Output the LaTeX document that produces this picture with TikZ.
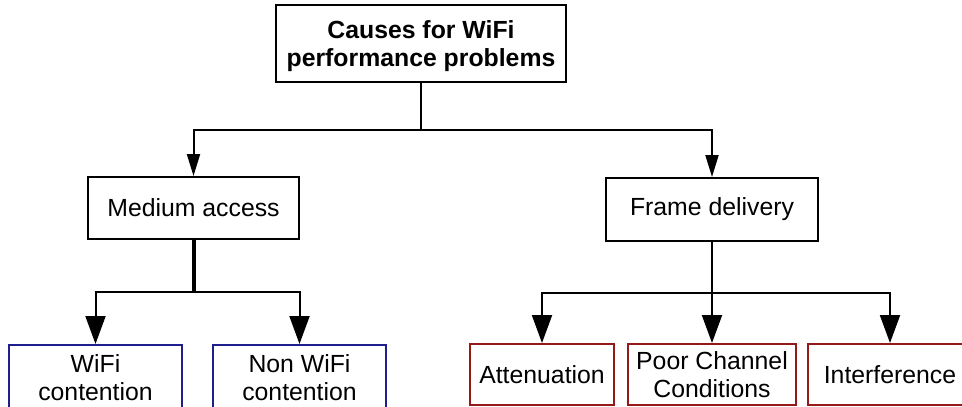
\documentclass[tikz,border=0pt]{standalone}
\usepackage{fontspec}
\setmainfont{Liberation Sans}
\usetikzlibrary{arrows.meta}
\definecolor{boxblue}{RGB}{30,30,140}
\definecolor{boxred}{RGB}{150,25,25}
\begin{document}
\begin{tikzpicture}[x=1pt,y=-1pt,
  box/.style={draw=black,line width=2pt,inner sep=0pt,align=center,
    font=\fontsize{24.8}{28}\selectfont},
  bluebox/.style={box,draw=boxblue},
  redbox/.style={box,draw=boxred},
  conn/.style={line width=2pt,draw=black},
  arrA/.style={conn,-{Triangle[width=13pt,length=22pt]}},
  arrB/.style={conn,-{Triangle[width=20pt,length=28pt]}}]
\useasboundingbox (0,0) rectangle (962,407);
\clip (0,0) rectangle (962,407);
\node[box,minimum width=290pt,minimum height=77pt] (top) at (421,43.5) {};
\node[font=\bfseries\fontsize{24.8}{28}\selectfont,align=center,inner sep=0pt] (toptext) at (421,46) {Causes for WiFi\\performance problems};
\node[box,minimum width=211pt,minimum height=62pt] (ma) at (193.5,208) {Medium access};
\node[box,minimum width=212pt,minimum height=63pt] (fd) at (712,209.5) {Frame delivery};
\node[bluebox,minimum width=173pt,minimum height=66pt] (wc) at (95.5,378) {WiFi\\contention};
\node[bluebox,minimum width=173pt,minimum height=66pt] (nwc) at (299.5,378) {Non WiFi\\contention};
\node[redbox,minimum width=144pt,minimum height=61pt] (att) at (542,374.5) {Attenuation};
\node[redbox,minimum width=168pt,minimum height=61pt] (pcc) at (712,374.5) {Poor Channel\\Conditions};
\node[redbox,minimum width=164pt,minimum height=61pt] (intf) at (890,374.5) {Interference};
\coordinate (j1) at (421,130);
\coordinate (j2) at (193.5,292);
\coordinate (j3) at (712,292.5);
\draw[conn] (top.south) -- (j1);
\draw[arrA] (j1) -| (ma.north);
\draw[arrA] (j1) -| (fd.north);
\draw[line width=4pt] (ma.south) -- (j2);
\draw[arrB] (j2) -| (wc.north);
\draw[arrB] (j2) -| (nwc.north);
\draw[conn] (fd.south) -- (j3);
\draw[arrB] (j3) -| (att.north);
\draw[arrB] (j3) -- (pcc.north);
\draw[arrB] (j3) -| (intf.north);
\end{tikzpicture}
\end{document}
